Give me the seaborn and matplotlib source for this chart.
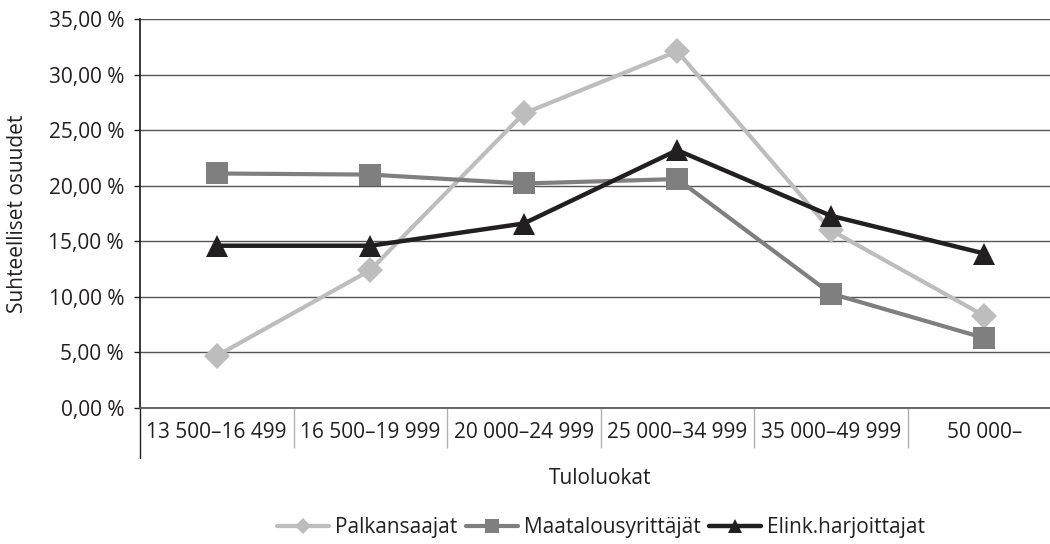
import matplotlib
matplotlib.use('Agg')

import matplotlib.pyplot as plt
from matplotlib.ticker import FuncFormatter
from matplotlib.lines import Line2D
import numpy as np
import pandas as pd
import seaborn as sns

# Data
categories = ["13 500\u201316 499", "16 500\u201319 999", "20 000\u201324 999",
              "25 000\u201334 999", "35 000\u201349 999", "50 000\u2013"]
palkansaajat = [4.7, 12.4, 26.5, 32.1, 16.0, 8.3]
maatalousyrittajat = [21.1, 21.0, 20.2, 20.6, 10.3, 6.3]
elinkeinonharjoittajat = [14.6, 14.6, 16.6, 23.2, 17.3, 13.9]

series_names = ["Palkansaajat", "Maatalousyrittäjät", "Elink.harjoittajat"]

sns.set_theme(style="white")
plt.rcParams['font.family'] = ['Open Sans', 'DejaVu Sans']
FS = 15

df = pd.DataFrame({
    "Tuloluokka": categories * 3,
    "pos": list(range(len(categories))) * 3,
    "Osuus": palkansaajat + maatalousyrittajat + elinkeinonharjoittajat,
    "Sarja": [n for n in series_names for _ in categories],
})

colors = {"Palkansaajat": "#bdbdbd", "Maatalousyrittäjät": "#7f7f7f",
          "Elink.harjoittajat": "#231f20"}
markers = {"Palkansaajat": "D", "Maatalousyrittäjät": "s", "Elink.harjoittajat": "^"}
msizes = {"Palkansaajat": 13, "Maatalousyrittäjät": 16, "Elink.harjoittajat": 16}
lwidths = {"Palkansaajat": 3, "Maatalousyrittäjät": 3, "Elink.harjoittajat": 3.2}

fig = plt.figure(figsize=(10.5, 5.44), dpi=100)
ax = fig.add_axes([140 / 1050, (544 - 408) / 544, 921 / 1050, 389 / 544])

for name in series_names:
    sub = df[df["Sarja"] == name]
    sns.lineplot(data=sub, x="pos", y="Osuus", ax=ax, color=colors[name],
                 linewidth=lwidths[name], marker=markers[name],
                 markersize=msizes[name], markeredgewidth=0, legend=False)

ax.set_xlim(-0.5, len(categories) - 0.5)
ax.set_ylim(0, 35)
ax.set_yticks(np.arange(0, 36, 5))
ax.yaxis.set_major_formatter(FuncFormatter(lambda v, _: f"{v:.2f}".replace(".", ",") + " %"))
ax.grid(axis="y", color="#555555", linewidth=1)
ax.set_axisbelow(True)

ax.set_xticks(range(len(categories)))
ax.set_xticklabels(categories)
ax.set_xticks(np.arange(0.5, len(categories) - 0.5, 1), minor=True)
ax.tick_params(axis="x", which="major", length=0, pad=10, labelsize=FS, colors="#231f20")
ax.tick_params(axis="x", which="minor", length=29, width=1, color="#b0b0b0",
               direction="out", bottom=True)
ax.tick_params(axis="y", which="major", length=4.5, width=1, color="#231f20", pad=7,
               labelsize=FS, labelcolor="#231f20", left=True)

# left axis line continues below the category band
ax.plot([-0.5, -0.5], [0, -50 / 389], transform=ax.get_xaxis_transform(),
        color="#231f20", linewidth=1, clip_on=False)

for side in ["top", "right"]:
    ax.spines[side].set_visible(False)
ax.spines["left"].set_color("#231f20")
ax.spines["bottom"].set_color("#555555")

ax.set_xlabel("Tuloluokat", fontsize=FS, color="#231f20")
ax.xaxis.set_label_coords(460 / 921, -70 / 389)
ax.xaxis.label.set_va("center")
ax.set_ylabel("Suhteelliset osuudet", fontsize=FS, color="#231f20")
ax.yaxis.set_label_coords(-122 / 921, 0.5)
ax.yaxis.label.set_va("center")

handles = [Line2D([0], [0], color=colors[n], linewidth=lwidths[n], marker=markers[n],
                  markersize=msizes[n] * 0.65, markeredgewidth=0) for n in series_names]
fig.legend(handles, series_names, loc="center", bbox_to_anchor=(601 / 1050, 1 - 528 / 544),
           ncol=3, frameon=False, fontsize=FS, handlelength=2.5, handletextpad=0.3,
           columnspacing=0.4, labelcolor="#231f20")

plt.savefig("out.png", dpi=100)
plt.close('all')
